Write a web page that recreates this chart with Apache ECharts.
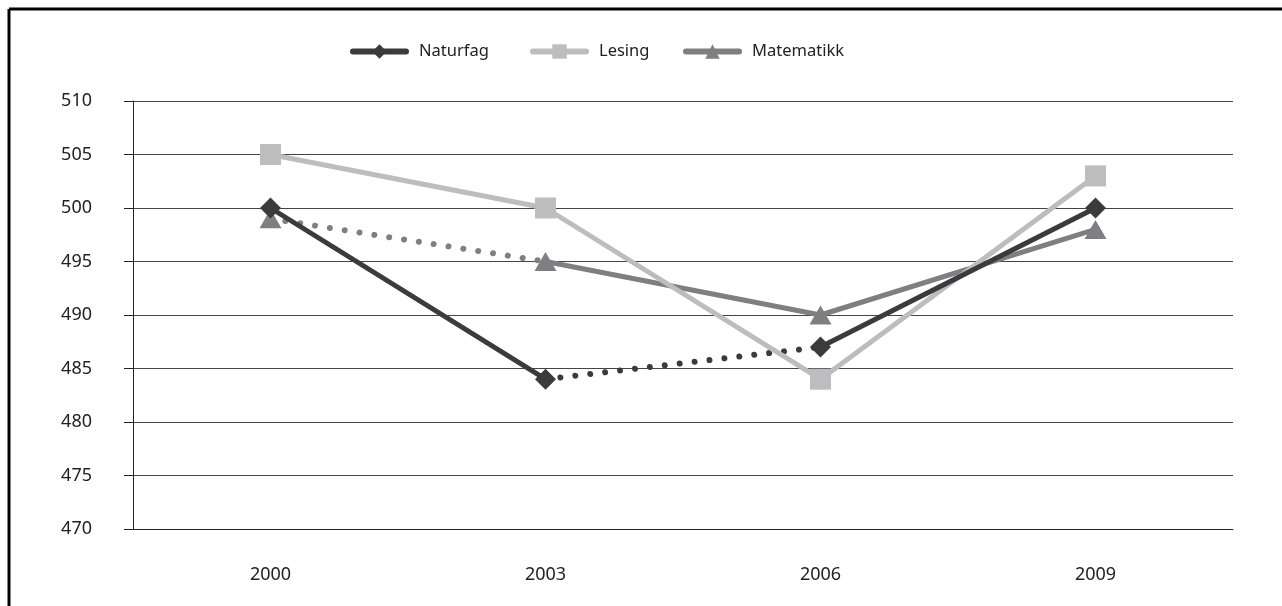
<!DOCTYPE html>
<html>
<head>
<meta charset="utf-8">
<script src="https://cdn.jsdelivr.net/npm/echarts@6/dist/echarts.min.js"></script>
<style>html,body{margin:0;padding:0;background:#fff}#c{width:1282px;height:606px}</style>
</head>
<body>
<div id="c"></div>
<script>
var years = ['2000', '2003', '2006', '2009'];
var naturfag = [500, 484, 487, 500];
var lesing = [505, 500, 484, 503];
var matematikk = [499, 495, 490, 498];
var yTicks = [470, 475, 480, 485, 490, 495, 500, 505, 510];
var legendNames = ['Naturfag', 'Lesing', 'Matematikk'];

var cN = '#3b3b3b', cL = '#bdbdbf', cM = '#7f7f81';
var FONT = 'Noto Sans';

function part(arr, idx) {
  return arr.map(function (v, i) { return idx.indexOf(i) >= 0 ? v : '-'; });
}

var legendLefts = [345, 525, 678];
var legends = legendNames.map(function (n, i) {
  return {
    data: [n],
    top: 38,
    left: legendLefts[i],
    itemWidth: 53,
    itemHeight: 18,
    lineStyle: { width: 6, cap: 'round' },
    textStyle: { fontSize: 16.5, color: '#222', fontFamily: FONT, padding: [0, 0, 0, 8] }
  };
});

var chart = echarts.init(document.getElementById('c'));
var dots = { width: 6, type: [0.01, 15], cap: 'round' };
var LW = 5;
chart.setOption({
  animation: false,
  textStyle: { fontFamily: FONT },
  graphic: [
    { type: 'line', shape: { x1: 9, y1: 9, x2: 1282, y2: 9 }, style: { stroke: '#000', lineWidth: 3 } },
    { type: 'line', shape: { x1: 9, y1: 9, x2: 9, y2: 606 }, style: { stroke: '#000', lineWidth: 3 } }
  ],
  legend: legends,
  grid: { left: 133, right: 49, top: 101, bottom: 77 },
  xAxis: {
    type: 'category',
    data: years,
    boundaryGap: true,
    axisLine: { lineStyle: { color: '#222', width: 1 } },
    axisTick: { length: 9, lineStyle: { color: '#222' } },
    axisLabel: { margin: 37, fontSize: 18, color: '#222', fontFamily: FONT }
  },
  yAxis: {
    type: 'value',
    min: 470, max: 510, interval: 5,
    axisLine: { show: true, lineStyle: { color: '#222', width: 1 } },
    axisTick: { show: true, length: 9, lineStyle: { color: '#222' } },
    axisLabel: {
      margin: 41, fontSize: 18, color: '#222', fontFamily: FONT,
      formatter: function (v) { return yTicks.indexOf(v) >= 0 ? String(v) : ''; }
    },
    splitLine: { lineStyle: { color: '#444', width: 1 } }
  },
  series: [
    { name: 'Matematikk', type: 'line', data: part(matematikk, [1, 2, 3]), symbol: 'triangle', symbolSize: [22, 19],
      itemStyle: { color: cM }, lineStyle: { color: cM, width: LW }, z: 2 },
    { name: 'Matematikk', type: 'line', data: part(matematikk, [0]), symbol: 'triangle', symbolSize: [22, 19],
      itemStyle: { color: cM }, lineStyle: { color: cM, width: LW }, z: 2 },
    { type: 'line', data: part(matematikk, [0, 1]), symbol: 'none', lineStyle: Object.assign({ color: cM }, dots), z: 1, silent: true },
    { name: 'Lesing', type: 'line', data: lesing, symbol: 'rect', symbolSize: 21,
      itemStyle: { color: cL }, lineStyle: { color: cL, width: LW }, z: 3 },
    { name: 'Naturfag', type: 'line', data: part(naturfag, [0, 1]), symbol: 'diamond', symbolSize: [21, 21],
      itemStyle: { color: cN }, lineStyle: { color: cN, width: LW }, z: 4 },
    { name: 'Naturfag', type: 'line', data: part(naturfag, [2, 3]), symbol: 'diamond', symbolSize: [21, 21],
      itemStyle: { color: cN }, lineStyle: { color: cN, width: LW }, z: 4 },
    { type: 'line', data: part(naturfag, [1, 2]), symbol: 'none', lineStyle: Object.assign({ color: cN }, dots), z: 1, silent: true }
  ]
});
</script>
</body>
</html>
